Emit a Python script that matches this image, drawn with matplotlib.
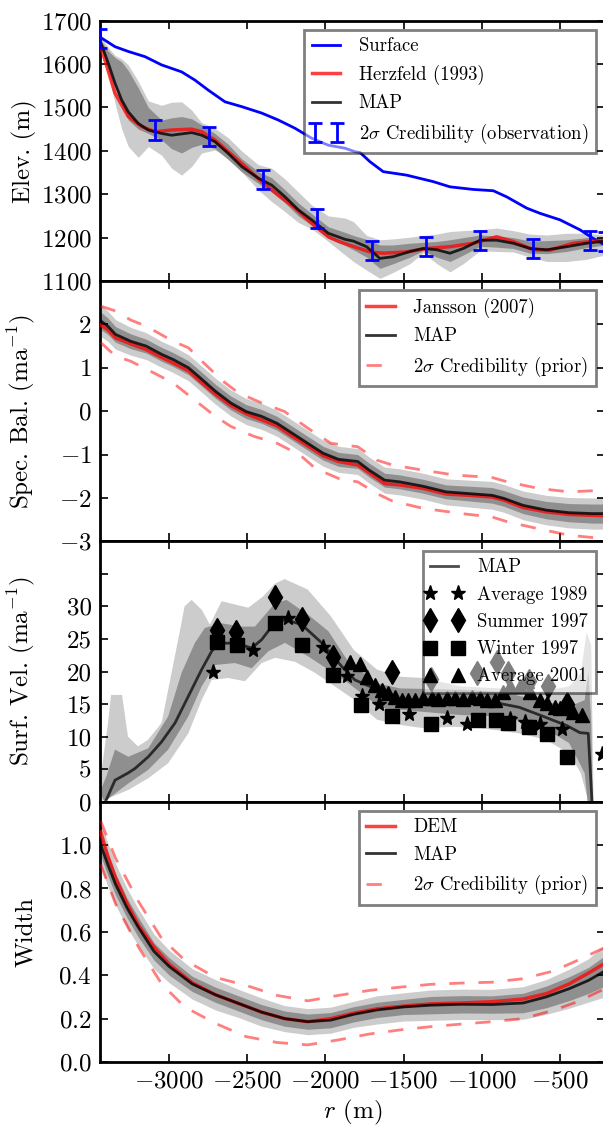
import numpy as np
import matplotlib
matplotlib.use('Agg')
import matplotlib.pyplot as plt
from matplotlib.lines import Line2D
from matplotlib.container import ErrorbarContainer
from matplotlib.legend_handler import HandlerLine2D, HandlerErrorbar

# ---- panel 1: elevation ----
r_surf = [-3436, -3345, -3260, -3153, -3047, -2919, -2834, -2749, -2642, -2536, -2407, -2301,
          -2194, -2087, -1981, -1874, -1811, -1778, -1715, -1630, -1481, -1310, -1203, -1054,
          -926, -841, -713, -628, -500, -372, -287, -212]
elev_surf = [1661, 1640, 1629, 1617, 1598, 1582, 1563, 1540, 1513, 1502, 1487, 1471,
             1452, 1429, 1413, 1406, 1398, 1396, 1375, 1352, 1344, 1329, 1317, 1311,
             1308, 1294, 1268, 1256, 1241, 1218, 1198, 1183]

r_herz = [-3436, -3345, -3260, -3175, -3089, -2983, -2855, -2791, -2706, -2621, -2514, -2408,
          -2301, -2194, -2087, -1981, -1906, -1800, -1715, -1630, -1481, -1352, -1203, -1054,
          -905, -799, -671, -564, -415, -212]
elev_herz = [1640, 1533, 1479, 1456, 1444, 1448, 1450, 1444, 1425, 1398, 1364, 1329,
             1298, 1268, 1233, 1202, 1190, 1177, 1167, 1164, 1167, 1175, 1179, 1187,
             1202, 1191, 1172, 1171, 1187, 1194]

r1 = [-3436, -3388, -3345, -3302, -3260, -3196, -3132, -3047, -2983, -2919, -2855, -2791, -2706,
      -2621, -2536, -2429, -2343, -2258, -2173, -2087, -1981, -1874, -1821, -1736, -1651, -1566,
      -1459, -1374, -1288, -1203, -1118, -1011, -905, -799, -691, -585, -457, -329, -212]
elev_map = [1650, 1602, 1556, 1517, 1490, 1463, 1448, 1440, 1436, 1439, 1442, 1436, 1421,
            1394, 1364, 1337, 1321, 1294, 1264, 1241, 1210, 1196, 1192, 1179, 1152, 1156,
            1168, 1175, 1172, 1164, 1175, 1194, 1194, 1187, 1175, 1172, 1179, 1187, 1192]
elev_light_lo = [1640, 1575, 1510, 1450, 1410, 1385, 1410, 1390, 1360, 1344, 1364, 1395, 1402,
                 1385, 1352, 1310, 1283, 1260, 1235, 1220, 1191, 1160, 1145, 1125, 1106, 1120,
                 1140, 1165, 1140, 1121, 1140, 1170, 1168, 1167, 1155, 1145, 1145, 1150, 1160]
elev_light_hi = [1662, 1638, 1620, 1612, 1598, 1560, 1515, 1505, 1512, 1513, 1494, 1465, 1452,
                 1430, 1400, 1368, 1360, 1335, 1305, 1275, 1250, 1245, 1237, 1205, 1195, 1197,
                 1201, 1205, 1208, 1214, 1216, 1218, 1222, 1216, 1208, 1206, 1210, 1210, 1206]
elev_dark_lo = [1644, 1595, 1548, 1505, 1471, 1450, 1440, 1425, 1405, 1395, 1408, 1415, 1405,
                1380, 1352, 1325, 1305, 1280, 1250, 1228, 1198, 1182, 1172, 1155, 1129, 1140,
                1155, 1170, 1155, 1145, 1160, 1180, 1178, 1175, 1164, 1163, 1168, 1177, 1183]
elev_dark_hi = [1654, 1630, 1615, 1605, 1585, 1545, 1500, 1471, 1476, 1479, 1474, 1460, 1440,
                1415, 1382, 1352, 1338, 1310, 1280, 1255, 1225, 1212, 1205, 1196, 1183, 1183,
                1187, 1189, 1191, 1195, 1200, 1206, 1204, 1200, 1192, 1193, 1195, 1200, 1201]

r_obs = [-3441, -3089, -2742, -2397, -2055, -1704, -1357, -1011, -670, -308, -215]
elev_obs = [1659, 1448, 1433, 1333, 1245, 1171, 1179, 1194, 1175, 1194, 1190]
elev_err = 22

# ---- panel 2: specific balance ----
r2 = [-3436, -3391, -3342, -3244, -3146, -3047, -2973, -2875, -2801, -2703, -2605, -2506,
      -2408, -2309, -2211, -2113, -2014, -1916, -1793, -1719, -1621, -1523, -1375, -1228,
      -1080, -933, -859, -736, -588, -441, -293, -212]
bal_map = [2.08, 1.96, 1.77, 1.61, 1.50, 1.31, 1.19, 1.00, 0.77, 0.46, 0.19, -0.01,
           -0.12, -0.28, -0.51, -0.74, -0.97, -1.11, -1.16, -1.36, -1.59, -1.63, -1.73, -1.86,
           -1.90, -1.94, -2.01, -2.17, -2.28, -2.34, -2.36, -2.36]
bal_jansson = [1.98, 1.88, 1.69, 1.55, 1.42, 1.24, 1.11, 0.93, 0.69, 0.39, 0.13, -0.06,
               -0.20, -0.34, -0.58, -0.80, -1.03, -1.16, -1.24, -1.42, -1.67, -1.70, -1.78, -1.91,
               -1.94, -1.98, -2.05, -2.22, -2.32, -2.38, -2.40, -2.41]
bal_light_hw = [0.36, 0.35, 0.34, 0.32, 0.31, 0.30, 0.30, 0.30, 0.30, 0.30, 0.30, 0.30,
                0.30, 0.30, 0.30, 0.30, 0.30, 0.30, 0.30, 0.30, 0.30, 0.30, 0.30, 0.30,
                0.31, 0.32, 0.32, 0.33, 0.34, 0.35, 0.36, 0.36]
bal_dark_hw = [0.20, 0.19, 0.18, 0.17, 0.16, 0.16, 0.16, 0.16, 0.16, 0.16, 0.16, 0.16,
               0.16, 0.16, 0.16, 0.16, 0.16, 0.16, 0.16, 0.16, 0.16, 0.16, 0.16, 0.16,
               0.17, 0.18, 0.18, 0.19, 0.20, 0.21, 0.22, 0.22]
r_bprior_hi = [-3436, -3342, -3244, -3146, -2973, -2875, -2777, -2654, -2555, -2408, -2260, -2113,
               -1965, -1793, -1670, -1572, -1375, -1178, -933, -835, -637, -441, -212]
bal_prior_hi = [2.42, 2.31, 2.10, 1.96, 1.61, 1.46, 1.11, 0.69, 0.42, 0.19, -0.01, -0.39,
                -0.74, -0.82, -1.13, -1.24, -1.36, -1.47, -1.53, -1.63, -1.78, -1.86, -1.82]
r_bprior_lo = [-3436, -3342, -3244, -3096, -2973, -2851, -2703, -2605, -2457, -2309, -2162, -2064,
               -1916, -1793, -1670, -1572, -1375, -1129, -933, -835, -637, -441, -212]
bal_prior_lo = [1.58, 1.27, 1.15, 0.88, 0.65, 0.30, -0.12, -0.35, -0.58, -0.74, -1.01, -1.32,
                -1.55, -1.63, -1.90, -2.07, -2.24, -2.36, -2.44, -2.55, -2.71, -2.86, -2.94]

# ---- panel 3: surface velocity ----
r3 = [-3400, -3345, -3262, -3217, -3132, -3047, -2961, -2876, -2791, -2727, -2685, -2578,
      -2471, -2407, -2343, -2258, -2151, -2023, -1896, -1811, -1694, -1572, -1512, -1375,
      -1129, -908, -760, -628, -457, -372, -319, -295]
vel_map = [0.3, 3.3, 4.4, 5.1, 6.9, 9.2, 12.1, 16.2, 20.3, 23.1, 24.3, 24.4,
           23.6, 24.9, 26.9, 28.0, 27.2, 24.4, 20.8, 18.7, 17.5, 15.8, 15.2, 15.0,
           15.1, 15.2, 14.5, 13.3, 11.7, 10.6, 10.5, 0.0]
r_vl_hi = [-3441, -3390, -3370, -3300, -3262, -3198, -3134, -3047, -2941, -2900, -2855, -2791,
           -2738, -2663, -2578, -2493, -2400, -2322, -2260, -2113, -1965, -1818, -1670, -1523,
           -1375, -1129, -883, -637, -441, -367, -330, -300, -285]
vel_light_hi = [3.0, 12, 16.4, 16.4, 10, 8.5, 9.5, 12.1, 24.9, 30, 31.0, 29.5,
                27.2, 30.8, 30.3, 29.8, 31.5, 33.5, 34.2, 32.6, 28.5, 23.3, 20.3, 19.2,
                19.0, 17.7, 17.4, 16.9, 17.7, 19.7, 26, 24, 0]
r_vl_lo = [-3441, -3260, -3132, -3005, -2876, -2791, -2727, -2621, -2514, -2407, -2322, -2194,
           -2066, -1938, -1811, -1670, -1523, -1375, -1178, -1006, -760, -588, -441, -367, -318]
vel_light_lo = [0, 1.8, 3.6, 5.9, 10.5, 15.6, 18.7, 19.0, 18.5, 21.3, 22.1, 21.5,
                19.8, 17.7, 15.6, 12.6, 11.8, 11.3, 11.5, 11.3, 10.5, 9.5, 7.4, 4.4, 0]
r_vd_hi = [-3441, -3400, -3345, -3260, -3132, -3005, -2919, -2834, -2770, -2663, -2536, -2450,
           -2322, -2248, -2109, -1981, -1853, -1670, -1523, -1129, -883, -637, -441, -342,
           -318, -300, -290]
vel_dark_hi = [1.5, 3.9, 8.0, 6.9, 8.2, 13.1, 19.8, 24.4, 26.7, 27.4, 26.9, 26.9,
               30.5, 31.0, 28.7, 26.2, 21.5, 18.2, 17.4, 17.2, 16.9, 15.6, 14.6, 15.6,
               20, 12, 0]
r_vd_lo = [-3413, -3260, -3132, -3005, -2876, -2791, -2706, -2578, -2471, -2365, -2258, -2109,
           -1981, -1853, -1646, -1375, -1129, -883, -637, -441, -342, -323]
vel_dark_lo = [0, 2.8, 4.9, 8.0, 13.1, 17.7, 21.0, 21.3, 20.5, 23.1, 24.4, 22.3,
               20.3, 18.2, 14.4, 13.8, 13.3, 13.1, 11.8, 9.0, 4.4, 0]

r_avg1989 = [-2716, -2465, -2241, -2017, -1860, -1768, -1655, -1463, -1224, -1096, -819, -724,
             -628, -489, -233]
v_avg1989 = [20.0, 23.3, 28.2, 23.8, 19.3, 16.3, 15.0, 13.5, 12.8, 11.9, 12.7, 12.3,
             11.9, 11.2, 7.4]
r_sum1997 = [-2691, -2570, -2322, -2147, -1949, -1577, -1327, -1032, -905, -832, -700, -579, -453]
v_sum1997 = [26.4, 26.0, 31.4, 28.0, 22.3, 20.0, 18.8, 19.8, 21.5, 19.8, 18.6, 17.7, 15.0]
r_win1997 = [-2691, -2568, -2322, -2147, -1949, -1775, -1577, -1327, -1021, -912, -832, -701,
             -581, -455]
v_win1997 = [24.5, 24.0, 27.4, 24.0, 19.5, 14.9, 13.1, 12.0, 12.6, 12.6, 12.1, 11.4,
             10.4, 6.9]
r_avg2001 = [-1843, -1779, -1736, -1683, -1640, -1598, -1555, -1512, -1470, -1427, -1374, -1320,
             -1278, -1224, -1171, -1118, -1064, -1011, -969, -915, -862, -819, -755, -712,
             -691, -628, -585, -532, -500, -447, -415, -361]
v_avg2001 = [21.4, 21.2, 19.1, 18.0, 17.2, 16.7, 16.1, 15.6, 15.6, 15.6, 15.9, 15.9,
             15.8, 15.9, 15.9, 15.8, 16.1, 15.9, 15.6, 15.6, 16.9, 17.7, 17.7, 18.5,
             16.9, 15.6, 15.1, 14.6, 14.4, 15.2, 13.8, 13.3]

# ---- panel 4: width ----
r4 = [-3436, -3391, -3342, -3268, -3195, -3096, -2998, -2851, -2703, -2555, -2408, -2260,
      -2113, -1965, -1818, -1670, -1498, -1326, -1129, -933, -736, -588, -441, -318, -212]
w_map = [1.0, 0.91, 0.82, 0.71, 0.62, 0.51, 0.44, 0.36, 0.31, 0.27, 0.23, 0.20,
         0.186, 0.193, 0.22, 0.24, 0.254, 0.262, 0.266, 0.265, 0.272, 0.30, 0.338, 0.376, 0.42]
w_dem = [1.06, 0.95, 0.85, 0.73, 0.63, 0.53, 0.45, 0.365, 0.31, 0.27, 0.23, 0.20,
         0.186, 0.20, 0.225, 0.245, 0.258, 0.268, 0.272, 0.278, 0.29, 0.315, 0.36, 0.41, 0.455]
w_light_hw = [0.10, 0.10, 0.095, 0.09, 0.085, 0.08, 0.075, 0.07, 0.07, 0.065, 0.065, 0.06,
              0.06, 0.06, 0.06, 0.065, 0.065, 0.07, 0.07, 0.07, 0.075, 0.08, 0.09, 0.10, 0.12]
w_dark_hw = [0.05, 0.05, 0.05, 0.045, 0.045, 0.04, 0.04, 0.035, 0.035, 0.035, 0.035, 0.035,
             0.035, 0.035, 0.035, 0.035, 0.035, 0.04, 0.04, 0.04, 0.045, 0.05, 0.055, 0.06, 0.07]
r_wprior = [-3436, -3342, -3195, -3047, -2900, -2703, -2506, -2309, -2113, -1916, -1719, -1523,
            -1326, -1129, -933, -736, -539, -392, -212]
w_prior_hi = [1.11, 0.94, 0.74, 0.57, 0.47, 0.39, 0.353, 0.307, 0.282, 0.307, 0.33, 0.345,
              0.358, 0.364, 0.368, 0.384, 0.42, 0.467, 0.528]
w_prior_lo = [0.91, 0.73, 0.53, 0.36, 0.254, 0.178, 0.117, 0.09, 0.079, 0.102, 0.129, 0.148,
              0.163, 0.175, 0.186, 0.20, 0.239, 0.277, 0.338]

LIGHT = '0.8'
DARK = '0.56'
DASH = (5.5, 5)

plt.rcParams.update({
    'font.family': 'serif',
    'font.serif': ['cmr10'],
    'mathtext.fontset': 'cm',
    'axes.formatter.use_mathtext': True,
    'font.size': 18,
    'axes.linewidth': 2,
    'xtick.direction': 'in', 'ytick.direction': 'in',
    'xtick.top': True, 'ytick.right': True,
    'xtick.major.size': 6, 'ytick.major.size': 6,
    'xtick.major.width': 1.2, 'ytick.major.width': 1.2,
    'xtick.major.pad': 6, 'ytick.major.pad': 6,
    'legend.fontsize': 13.5,
    'legend.numpoints': 2,
    'legend.fancybox': False,
    'legend.framealpha': 0.5,
    'legend.edgecolor': 'k',
    'legend.handlelength': 1.5,
    'legend.handletextpad': 1.0,
})

fig = plt.figure(figsize=(6.03, 11.35), dpi=100)
fig.subplots_adjust(left=0.1658, right=1.0033, top=0.9818, bottom=0.0643, hspace=0)
axes = fig.subplots(4, 1, sharex=True)
ax1, ax2, ax3, ax4 = axes

handlers = {Line2D: HandlerLine2D(marker_pad=0.0),
            ErrorbarContainer: HandlerErrorbar(marker_pad=0.15)}


def band_between(ax, x, lo, hi, color):
    ax.fill_between(x, lo, hi, color=color, lw=0, zorder=1)


def band_poly(ax, x_hi, y_hi, x_lo, y_lo, color):
    xs = np.concatenate([x_hi, x_lo[::-1]])
    ys = np.concatenate([y_hi, y_lo[::-1]])
    ax.fill(xs, ys, color=color, lw=0, zorder=1)


def add_legend(ax):
    leg = ax.legend(loc='upper right', handler_map=handlers)
    leg.get_frame().set_linewidth(2)


# panel 1
band_between(ax1, r1, elev_light_lo, elev_light_hi, LIGHT)
band_between(ax1, r1, elev_dark_lo, elev_dark_hi, DARK)
ax1.plot(r_surf, elev_surf, color='b', lw=2, label='Surface', zorder=3)
ax1.plot(r_herz, elev_herz, color='r', alpha=0.75, lw=2.5, label='Herzfeld (1993)', zorder=3)
ax1.plot(r1, elev_map, color='k', alpha=0.8, lw=2, label='MAP', zorder=4)
ax1.errorbar(r_obs, elev_obs, yerr=elev_err, fmt='none', ecolor='b', elinewidth=2,
             capsize=5, capthick=2, zorder=5, label=r'2$\sigma$ Credibility (observation)')
ax1.set_ylim(1100, 1700)
ax1.set_yticks(np.arange(1100, 1701, 100))
ax1.set_ylabel('Elev. (m)')
add_legend(ax1)

# panel 2
b_map = np.array(bal_map)
band_between(ax2, r2, b_map - np.array(bal_light_hw), b_map + np.array(bal_light_hw), LIGHT)
band_between(ax2, r2, b_map - np.array(bal_dark_hw), b_map + np.array(bal_dark_hw), DARK)
ax2.plot(r2, bal_jansson, color='r', alpha=0.75, lw=2.5, label='Jansson (2007)', zorder=3)
ax2.plot(r2, bal_map, color='k', alpha=0.8, lw=2, label='MAP', zorder=4)
ax2.plot(r_bprior_hi, bal_prior_hi, color='r', alpha=0.5, lw=2, dashes=DASH,
         label=r'2$\sigma$ Credibility (prior)', zorder=3)
ax2.plot(r_bprior_lo, bal_prior_lo, color='r', alpha=0.5, lw=2, dashes=DASH, zorder=3)
ax2.set_ylim(-3, 3)
ax2.set_yticks([-3, -2, -1, 0, 1, 2])
ax2.set_ylabel(r'Spec. Bal. (ma$^{-1}$)')
add_legend(ax2)

# panel 3
band_poly(ax3, np.array(r_vl_hi), np.array(vel_light_hi), np.array(r_vl_lo), np.array(vel_light_lo), LIGHT)
band_poly(ax3, np.array(r_vd_hi), np.array(vel_dark_hi), np.array(r_vd_lo), np.array(vel_dark_lo), DARK)
ax3.plot(r3, vel_map, color='k', alpha=0.7, lw=2, label='MAP', zorder=3)
ax3.plot(r_avg1989, v_avg1989, ls='none', marker='*', color='k', ms=11, label='Average 1989', zorder=4)
ax3.plot(r_sum1997, v_sum1997, ls='none', marker='d', color='k', ms=12, label='Summer 1997', zorder=4)
ax3.plot(r_win1997, v_win1997, ls='none', marker='s', color='k', ms=10, label='Winter 1997', zorder=4)
ax3.plot(r_avg2001, v_avg2001, ls='none', marker='^', color='k', ms=10, label='Average 2001', zorder=4)
ax3.set_ylim(0, 40)
ax3.set_yticks(np.arange(0, 36, 5))
ax3.set_yticklabels(['0', '5', '10', '15', '20', '25', '30', ''])
ax3.set_ylabel(r'Surf. Vel. (ma$^{-1}$)')
add_legend(ax3)

# panel 4
wm = np.array(w_map)
band_between(ax4, r4, wm - np.array(w_light_hw), wm + np.array(w_light_hw), LIGHT)
band_between(ax4, r4, wm - np.array(w_dark_hw), wm + np.array(w_dark_hw), DARK)
ax4.plot(r4, w_dem, color='r', alpha=0.75, lw=2.5, label='DEM', zorder=3)
ax4.plot(r4, w_map, color='k', alpha=0.8, lw=2, label='MAP', zorder=4)
ax4.plot(r_wprior, w_prior_hi, color='r', alpha=0.5, lw=2, dashes=DASH,
         label=r'2$\sigma$ Credibility (prior)', zorder=3)
ax4.plot(r_wprior, w_prior_lo, color='r', alpha=0.5, lw=2, dashes=DASH, zorder=3)
ax4.set_ylim(0, 1.2)
ax4.set_yticks(np.arange(0, 1.01, 0.2))
ax4.set_ylabel('Width')
ax4.set_xlabel(r'$r$ (m)')
add_legend(ax4)

ax4.set_xlim(-3441, -212)
ax4.set_xticks(np.arange(-3000, -499, 500))

for ax in axes:
    ax.yaxis.set_label_coords(-0.125, 0.5)

fig.savefig('out.png', dpi=100)
